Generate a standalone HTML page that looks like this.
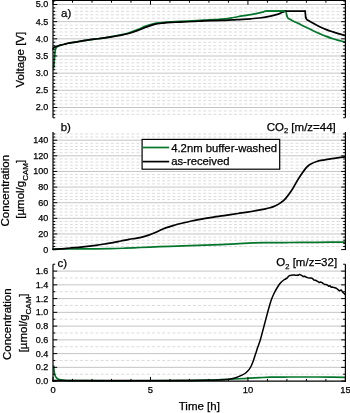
<!DOCTYPE html>
<html><head><meta charset="utf-8"><title>Figure</title>
<style>
html,body{margin:0;padding:0;background:#fff;width:350px;height:413px;overflow:hidden;}
svg{display:block;will-change:transform;font-family:"Liberation Sans", sans-serif;}
text{stroke:#000;stroke-width:0.25px;}
</style></head><body>
<svg width="350" height="413" viewBox="0 0 350 413" font-family='"Liberation Sans", sans-serif' fill="#000">
<rect width="350" height="413" fill="#fff"/>
<line x1="54.4" y1="114.36" x2="344.8" y2="114.36" stroke="#dcdcdc" stroke-width="1" stroke-dasharray="3 2.13"/>
<line x1="54.4" y1="110.92" x2="344.8" y2="110.92" stroke="#dcdcdc" stroke-width="1" stroke-dasharray="3 2.13"/>
<line x1="54.4" y1="104.06" x2="344.8" y2="104.06" stroke="#dcdcdc" stroke-width="1" stroke-dasharray="3 2.13"/>
<line x1="54.4" y1="100.62" x2="344.8" y2="100.62" stroke="#dcdcdc" stroke-width="1" stroke-dasharray="3 2.13"/>
<line x1="54.4" y1="97.19" x2="344.8" y2="97.19" stroke="#dcdcdc" stroke-width="1" stroke-dasharray="3 2.13"/>
<line x1="54.4" y1="93.76" x2="344.8" y2="93.76" stroke="#dcdcdc" stroke-width="1" stroke-dasharray="3 2.13"/>
<line x1="54.4" y1="86.89" x2="344.8" y2="86.89" stroke="#dcdcdc" stroke-width="1" stroke-dasharray="3 2.13"/>
<line x1="54.4" y1="83.46" x2="344.8" y2="83.46" stroke="#dcdcdc" stroke-width="1" stroke-dasharray="3 2.13"/>
<line x1="54.4" y1="80.03" x2="344.8" y2="80.03" stroke="#dcdcdc" stroke-width="1" stroke-dasharray="3 2.13"/>
<line x1="54.4" y1="76.59" x2="344.8" y2="76.59" stroke="#dcdcdc" stroke-width="1" stroke-dasharray="3 2.13"/>
<line x1="54.4" y1="69.73" x2="344.8" y2="69.73" stroke="#dcdcdc" stroke-width="1" stroke-dasharray="3 2.13"/>
<line x1="54.4" y1="66.29" x2="344.8" y2="66.29" stroke="#dcdcdc" stroke-width="1" stroke-dasharray="3 2.13"/>
<line x1="54.4" y1="62.86" x2="344.8" y2="62.86" stroke="#dcdcdc" stroke-width="1" stroke-dasharray="3 2.13"/>
<line x1="54.4" y1="59.43" x2="344.8" y2="59.43" stroke="#dcdcdc" stroke-width="1" stroke-dasharray="3 2.13"/>
<line x1="54.4" y1="52.56" x2="344.8" y2="52.56" stroke="#dcdcdc" stroke-width="1" stroke-dasharray="3 2.13"/>
<line x1="54.4" y1="49.13" x2="344.8" y2="49.13" stroke="#dcdcdc" stroke-width="1" stroke-dasharray="3 2.13"/>
<line x1="54.4" y1="45.7" x2="344.8" y2="45.7" stroke="#dcdcdc" stroke-width="1" stroke-dasharray="3 2.13"/>
<line x1="54.4" y1="42.26" x2="344.8" y2="42.26" stroke="#dcdcdc" stroke-width="1" stroke-dasharray="3 2.13"/>
<line x1="54.4" y1="35.4" x2="344.8" y2="35.4" stroke="#dcdcdc" stroke-width="1" stroke-dasharray="3 2.13"/>
<line x1="54.4" y1="31.96" x2="344.8" y2="31.96" stroke="#dcdcdc" stroke-width="1" stroke-dasharray="3 2.13"/>
<line x1="54.4" y1="28.53" x2="344.8" y2="28.53" stroke="#dcdcdc" stroke-width="1" stroke-dasharray="3 2.13"/>
<line x1="54.4" y1="25.1" x2="344.8" y2="25.1" stroke="#dcdcdc" stroke-width="1" stroke-dasharray="3 2.13"/>
<line x1="54.4" y1="18.23" x2="344.8" y2="18.23" stroke="#dcdcdc" stroke-width="1" stroke-dasharray="3 2.13"/>
<line x1="54.4" y1="14.8" x2="344.8" y2="14.8" stroke="#dcdcdc" stroke-width="1" stroke-dasharray="3 2.13"/>
<line x1="54.4" y1="11.37" x2="344.8" y2="11.37" stroke="#dcdcdc" stroke-width="1" stroke-dasharray="3 2.13"/>
<line x1="54.4" y1="7.93" x2="344.8" y2="7.93" stroke="#dcdcdc" stroke-width="1" stroke-dasharray="3 2.13"/>
<line x1="53.6" y1="107.49" x2="344.8" y2="107.49" stroke="#c4c4c4" stroke-width="1"/>
<line x1="53.6" y1="90.32" x2="344.8" y2="90.32" stroke="#c4c4c4" stroke-width="1"/>
<line x1="53.6" y1="73.16" x2="344.8" y2="73.16" stroke="#c4c4c4" stroke-width="1"/>
<line x1="53.6" y1="55.99" x2="344.8" y2="55.99" stroke="#c4c4c4" stroke-width="1"/>
<line x1="53.6" y1="38.83" x2="344.8" y2="38.83" stroke="#c4c4c4" stroke-width="1"/>
<line x1="53.6" y1="21.66" x2="344.8" y2="21.66" stroke="#c4c4c4" stroke-width="1"/>
<line x1="53.6" y1="4.5" x2="344.8" y2="4.5" stroke="#c4c4c4" stroke-width="1"/>
<rect x="59.3" y="6" width="14.3" height="14" fill="#fff"/>
<text x="61.0" y="16.8" font-size="11.5">a)</text>
<path d="M53.7,68 C53.8,66.83 54.13,63.08 54.3,61 C54.47,58.92 54.53,57.33 54.7,55.5 C54.87,53.67 55.03,51.35 55.3,50 C55.57,48.65 55.77,48.07 56.3,47.4 C56.83,46.73 57.65,46.4 58.5,46 C59.35,45.6 59.97,45.42 61.4,45 C62.83,44.58 65.18,43.92 67.1,43.5 C69.02,43.08 70.98,42.83 72.9,42.5 C74.82,42.17 76.47,41.85 78.6,41.5 C80.73,41.15 83.08,40.78 85.7,40.4 C88.32,40.02 91.43,39.58 94.3,39.2 C97.17,38.82 100.05,38.52 102.9,38.1 C105.75,37.68 108.55,37.22 111.4,36.7 C114.25,36.18 117.13,35.62 120,35 C122.87,34.38 125.75,33.85 128.6,33 C131.45,32.15 134.25,31.05 137.1,29.9 C139.95,28.75 142.83,27.15 145.7,26.1 C148.57,25.05 151.92,24.15 154.3,23.6 C156.68,23.05 157.15,23.08 160,22.8 C162.85,22.52 168.07,22.13 171.4,21.9 C174.73,21.67 176.42,21.58 180,21.4 C183.58,21.22 188.85,21.02 192.9,20.8 C196.95,20.58 200.62,20.3 204.3,20.1 C207.98,19.9 211.55,19.8 215,19.6 C218.45,19.4 221.9,19.25 225,18.9 C228.1,18.55 230.73,18 233.6,17.5 C236.47,17 239.35,16.38 242.2,15.9 C245.05,15.42 247.85,15.1 250.7,14.6 C253.55,14.1 257.17,13.37 259.3,12.9 C261.43,12.43 262.32,12.08 263.5,11.8 C264.68,11.52 262.68,11.3 266.4,11.2 C270.12,11.1 282.57,11.2 285.8,11.2" fill="none" stroke="#04762c" stroke-width="1.7" stroke-linejoin="round" stroke-linecap="round"/>
<polyline points="285.8,11.2 286.3,12.8 286.7,15.5" fill="none" stroke="#04762c" stroke-width="1.7" stroke-linejoin="round" stroke-linecap="round"/>
<path d="M286.7,15.5 C286.83,15.8 287.12,16.75 287.5,17.3 C287.88,17.85 288.07,18.18 289,18.8 C289.93,19.42 291.7,20.3 293.1,21 C294.5,21.7 296.25,22.47 297.4,23 C298.55,23.53 298.47,23.43 300,24.2 C301.53,24.97 304.4,26.52 306.6,27.6 C308.8,28.68 311.02,29.7 313.2,30.7 C315.38,31.7 317.52,32.65 319.7,33.6 C321.88,34.55 324.1,35.53 326.3,36.4 C328.5,37.27 330.7,38.1 332.9,38.8 C335.1,39.5 337.47,40.05 339.5,40.6 C341.53,41.15 344.17,41.85 345.1,42.1" fill="none" stroke="#04762c" stroke-width="1.7" stroke-linejoin="round" stroke-linecap="round"/>
<path d="M53,49 C53.12,48.8 53.43,48.12 53.7,47.8 C53.97,47.48 54.27,47.3 54.6,47.1 C54.93,46.9 55.03,46.83 55.7,46.6 C56.37,46.37 57.65,45.97 58.6,45.7 C59.55,45.43 60.45,45.23 61.4,45 C62.35,44.77 63.35,44.55 64.3,44.3 C65.25,44.05 66.15,43.75 67.1,43.5 C68.05,43.25 68.33,43.08 70,42.8 C71.67,42.52 74.48,42.2 77.1,41.8 C79.72,41.4 82.83,40.83 85.7,40.4 C88.57,39.97 91.43,39.57 94.3,39.2 C97.17,38.83 100.05,38.58 102.9,38.2 C105.75,37.82 108.55,37.37 111.4,36.9 C114.25,36.43 117.13,35.97 120,35.4 C122.87,34.83 125.75,34.27 128.6,33.5 C131.45,32.73 134.25,31.83 137.1,30.8 C139.95,29.77 142.83,28.37 145.7,27.3 C148.57,26.23 151.43,25.1 154.3,24.4 C157.17,23.7 160.05,23.43 162.9,23.1 C165.75,22.77 168.55,22.57 171.4,22.4 C174.25,22.23 176.42,22.25 180,22.1 C183.58,21.95 188.85,21.7 192.9,21.5 C196.95,21.3 200.62,21.05 204.3,20.9 C207.98,20.75 211.55,20.7 215,20.6 C218.45,20.5 221.67,20.43 225,20.3 C228.33,20.17 232.13,19.95 235,19.8 C237.87,19.65 239.58,19.57 242.2,19.4 C244.82,19.23 247.85,19.03 250.7,18.8 C253.55,18.57 256.43,18.35 259.3,18 C262.17,17.65 265.05,17.27 267.9,16.7 C270.75,16.13 274.33,15.17 276.4,14.6 C278.47,14.03 279.15,13.75 280.3,13.3 C281.45,12.85 282.52,12.25 283.3,11.9 C284.08,11.55 284.72,11.32 285,11.2" fill="none" stroke="#000" stroke-width="1.7" stroke-linejoin="round" stroke-linecap="round"/>
<polyline points="285,11.2 305.1,11.2" fill="none" stroke="#000" stroke-width="1.7" stroke-linejoin="round" stroke-linecap="round"/>
<polyline points="305.1,11.2 305.3,13 305.7,17.5" fill="none" stroke="#000" stroke-width="1.7" stroke-linejoin="round" stroke-linecap="round"/>
<path d="M305.7,17.5 C305.85,17.8 306.22,18.83 306.6,19.3 C306.98,19.77 306.9,19.63 308,20.3 C309.1,20.97 311.25,22.23 313.2,23.3 C315.15,24.37 317.52,25.65 319.7,26.7 C321.88,27.75 324.1,28.73 326.3,29.6 C328.5,30.47 330.7,31.18 332.9,31.9 C335.1,32.62 337.47,33.3 339.5,33.9 C341.53,34.5 344.17,35.23 345.1,35.5" fill="none" stroke="#000" stroke-width="1.7" stroke-linejoin="round" stroke-linecap="round"/>
<polyline points="266.4,11.2 284.8,11.2" fill="none" stroke="#04762c" stroke-width="1.7" stroke-linejoin="round" stroke-linecap="round"/>
<line x1="53" y1="107.49" x2="57.2" y2="107.49" stroke="#000" stroke-width="1"/>
<line x1="341.2" y1="107.49" x2="345.4" y2="107.49" stroke="#000" stroke-width="1"/>
<line x1="53" y1="90.32" x2="57.2" y2="90.32" stroke="#000" stroke-width="1"/>
<line x1="341.2" y1="90.32" x2="345.4" y2="90.32" stroke="#000" stroke-width="1"/>
<line x1="53" y1="73.16" x2="57.2" y2="73.16" stroke="#000" stroke-width="1"/>
<line x1="341.2" y1="73.16" x2="345.4" y2="73.16" stroke="#000" stroke-width="1"/>
<line x1="53" y1="55.99" x2="57.2" y2="55.99" stroke="#000" stroke-width="1"/>
<line x1="341.2" y1="55.99" x2="345.4" y2="55.99" stroke="#000" stroke-width="1"/>
<line x1="53" y1="38.83" x2="57.2" y2="38.83" stroke="#000" stroke-width="1"/>
<line x1="341.2" y1="38.83" x2="345.4" y2="38.83" stroke="#000" stroke-width="1"/>
<line x1="53" y1="21.66" x2="57.2" y2="21.66" stroke="#000" stroke-width="1"/>
<line x1="341.2" y1="21.66" x2="345.4" y2="21.66" stroke="#000" stroke-width="1"/>
<line x1="53" y1="4.5" x2="57.2" y2="4.5" stroke="#000" stroke-width="1"/>
<line x1="341.2" y1="4.5" x2="345.4" y2="4.5" stroke="#000" stroke-width="1"/>
<line x1="53" y1="117.79" x2="55.2" y2="117.79" stroke="#000" stroke-width="1"/>
<line x1="343.2" y1="117.79" x2="345.4" y2="117.79" stroke="#000" stroke-width="1"/>
<line x1="53" y1="114.36" x2="55.2" y2="114.36" stroke="#000" stroke-width="1"/>
<line x1="343.2" y1="114.36" x2="345.4" y2="114.36" stroke="#000" stroke-width="1"/>
<line x1="53" y1="110.92" x2="55.2" y2="110.92" stroke="#000" stroke-width="1"/>
<line x1="343.2" y1="110.92" x2="345.4" y2="110.92" stroke="#000" stroke-width="1"/>
<line x1="53" y1="104.06" x2="55.2" y2="104.06" stroke="#000" stroke-width="1"/>
<line x1="343.2" y1="104.06" x2="345.4" y2="104.06" stroke="#000" stroke-width="1"/>
<line x1="53" y1="100.62" x2="55.2" y2="100.62" stroke="#000" stroke-width="1"/>
<line x1="343.2" y1="100.62" x2="345.4" y2="100.62" stroke="#000" stroke-width="1"/>
<line x1="53" y1="97.19" x2="55.2" y2="97.19" stroke="#000" stroke-width="1"/>
<line x1="343.2" y1="97.19" x2="345.4" y2="97.19" stroke="#000" stroke-width="1"/>
<line x1="53" y1="93.76" x2="55.2" y2="93.76" stroke="#000" stroke-width="1"/>
<line x1="343.2" y1="93.76" x2="345.4" y2="93.76" stroke="#000" stroke-width="1"/>
<line x1="53" y1="86.89" x2="55.2" y2="86.89" stroke="#000" stroke-width="1"/>
<line x1="343.2" y1="86.89" x2="345.4" y2="86.89" stroke="#000" stroke-width="1"/>
<line x1="53" y1="83.46" x2="55.2" y2="83.46" stroke="#000" stroke-width="1"/>
<line x1="343.2" y1="83.46" x2="345.4" y2="83.46" stroke="#000" stroke-width="1"/>
<line x1="53" y1="80.03" x2="55.2" y2="80.03" stroke="#000" stroke-width="1"/>
<line x1="343.2" y1="80.03" x2="345.4" y2="80.03" stroke="#000" stroke-width="1"/>
<line x1="53" y1="76.59" x2="55.2" y2="76.59" stroke="#000" stroke-width="1"/>
<line x1="343.2" y1="76.59" x2="345.4" y2="76.59" stroke="#000" stroke-width="1"/>
<line x1="53" y1="69.73" x2="55.2" y2="69.73" stroke="#000" stroke-width="1"/>
<line x1="343.2" y1="69.73" x2="345.4" y2="69.73" stroke="#000" stroke-width="1"/>
<line x1="53" y1="66.29" x2="55.2" y2="66.29" stroke="#000" stroke-width="1"/>
<line x1="343.2" y1="66.29" x2="345.4" y2="66.29" stroke="#000" stroke-width="1"/>
<line x1="53" y1="62.86" x2="55.2" y2="62.86" stroke="#000" stroke-width="1"/>
<line x1="343.2" y1="62.86" x2="345.4" y2="62.86" stroke="#000" stroke-width="1"/>
<line x1="53" y1="59.43" x2="55.2" y2="59.43" stroke="#000" stroke-width="1"/>
<line x1="343.2" y1="59.43" x2="345.4" y2="59.43" stroke="#000" stroke-width="1"/>
<line x1="53" y1="52.56" x2="55.2" y2="52.56" stroke="#000" stroke-width="1"/>
<line x1="343.2" y1="52.56" x2="345.4" y2="52.56" stroke="#000" stroke-width="1"/>
<line x1="53" y1="49.13" x2="55.2" y2="49.13" stroke="#000" stroke-width="1"/>
<line x1="343.2" y1="49.13" x2="345.4" y2="49.13" stroke="#000" stroke-width="1"/>
<line x1="53" y1="45.7" x2="55.2" y2="45.7" stroke="#000" stroke-width="1"/>
<line x1="343.2" y1="45.7" x2="345.4" y2="45.7" stroke="#000" stroke-width="1"/>
<line x1="53" y1="42.26" x2="55.2" y2="42.26" stroke="#000" stroke-width="1"/>
<line x1="343.2" y1="42.26" x2="345.4" y2="42.26" stroke="#000" stroke-width="1"/>
<line x1="53" y1="35.4" x2="55.2" y2="35.4" stroke="#000" stroke-width="1"/>
<line x1="343.2" y1="35.4" x2="345.4" y2="35.4" stroke="#000" stroke-width="1"/>
<line x1="53" y1="31.96" x2="55.2" y2="31.96" stroke="#000" stroke-width="1"/>
<line x1="343.2" y1="31.96" x2="345.4" y2="31.96" stroke="#000" stroke-width="1"/>
<line x1="53" y1="28.53" x2="55.2" y2="28.53" stroke="#000" stroke-width="1"/>
<line x1="343.2" y1="28.53" x2="345.4" y2="28.53" stroke="#000" stroke-width="1"/>
<line x1="53" y1="25.1" x2="55.2" y2="25.1" stroke="#000" stroke-width="1"/>
<line x1="343.2" y1="25.1" x2="345.4" y2="25.1" stroke="#000" stroke-width="1"/>
<line x1="53" y1="18.23" x2="55.2" y2="18.23" stroke="#000" stroke-width="1"/>
<line x1="343.2" y1="18.23" x2="345.4" y2="18.23" stroke="#000" stroke-width="1"/>
<line x1="53" y1="14.8" x2="55.2" y2="14.8" stroke="#000" stroke-width="1"/>
<line x1="343.2" y1="14.8" x2="345.4" y2="14.8" stroke="#000" stroke-width="1"/>
<line x1="53" y1="11.37" x2="55.2" y2="11.37" stroke="#000" stroke-width="1"/>
<line x1="343.2" y1="11.37" x2="345.4" y2="11.37" stroke="#000" stroke-width="1"/>
<line x1="53" y1="7.93" x2="55.2" y2="7.93" stroke="#000" stroke-width="1"/>
<line x1="343.2" y1="7.93" x2="345.4" y2="7.93" stroke="#000" stroke-width="1"/>
<line x1="53" y1="1.07" x2="55.2" y2="1.07" stroke="#000" stroke-width="1"/>
<line x1="343.2" y1="1.07" x2="345.4" y2="1.07" stroke="#000" stroke-width="1"/>
<line x1="53" y1="0" x2="53" y2="117.79" stroke="#000" stroke-width="1.2"/>
<line x1="345.4" y1="0" x2="345.4" y2="117.79" stroke="#000" stroke-width="1.2"/>
<line x1="52.4" y1="0.5" x2="346" y2="0.5" stroke="#000" stroke-width="1.2"/>
<line x1="53" y1="0.5" x2="53" y2="4.7" stroke="#000" stroke-width="1"/>
<line x1="72.49" y1="0.5" x2="72.49" y2="2.7" stroke="#000" stroke-width="1"/>
<line x1="91.99" y1="0.5" x2="91.99" y2="2.7" stroke="#000" stroke-width="1"/>
<line x1="111.48" y1="0.5" x2="111.48" y2="2.7" stroke="#000" stroke-width="1"/>
<line x1="130.97" y1="0.5" x2="130.97" y2="2.7" stroke="#000" stroke-width="1"/>
<line x1="150.47" y1="0.5" x2="150.47" y2="4.7" stroke="#000" stroke-width="1"/>
<line x1="169.96" y1="0.5" x2="169.96" y2="2.7" stroke="#000" stroke-width="1"/>
<line x1="189.45" y1="0.5" x2="189.45" y2="2.7" stroke="#000" stroke-width="1"/>
<line x1="208.95" y1="0.5" x2="208.95" y2="2.7" stroke="#000" stroke-width="1"/>
<line x1="228.44" y1="0.5" x2="228.44" y2="2.7" stroke="#000" stroke-width="1"/>
<line x1="247.93" y1="0.5" x2="247.93" y2="4.7" stroke="#000" stroke-width="1"/>
<line x1="267.43" y1="0.5" x2="267.43" y2="2.7" stroke="#000" stroke-width="1"/>
<line x1="286.92" y1="0.5" x2="286.92" y2="2.7" stroke="#000" stroke-width="1"/>
<line x1="306.41" y1="0.5" x2="306.41" y2="2.7" stroke="#000" stroke-width="1"/>
<line x1="325.91" y1="0.5" x2="325.91" y2="2.7" stroke="#000" stroke-width="1"/>
<line x1="345.4" y1="0.5" x2="345.4" y2="4.7" stroke="#000" stroke-width="1"/>
<text x="48.2" y="110.39" text-anchor="end" font-size="9">2.0</text>
<text x="48.2" y="93.22" text-anchor="end" font-size="9">2.5</text>
<text x="48.2" y="76.06" text-anchor="end" font-size="9">3.0</text>
<text x="48.2" y="58.89" text-anchor="end" font-size="9">3.5</text>
<text x="48.2" y="41.73" text-anchor="end" font-size="9">4.0</text>
<text x="48.2" y="24.56" text-anchor="end" font-size="9">4.5</text>
<text x="48.2" y="7.4" text-anchor="end" font-size="9">5.0</text>
<line x1="54.4" y1="246.47" x2="344.8" y2="246.47" stroke="#dcdcdc" stroke-width="1" stroke-dasharray="3 2.13"/>
<line x1="54.4" y1="243.35" x2="344.8" y2="243.35" stroke="#dcdcdc" stroke-width="1" stroke-dasharray="3 2.13"/>
<line x1="54.4" y1="240.22" x2="344.8" y2="240.22" stroke="#dcdcdc" stroke-width="1" stroke-dasharray="3 2.13"/>
<line x1="54.4" y1="237.1" x2="344.8" y2="237.1" stroke="#dcdcdc" stroke-width="1" stroke-dasharray="3 2.13"/>
<line x1="54.4" y1="230.84" x2="344.8" y2="230.84" stroke="#dcdcdc" stroke-width="1" stroke-dasharray="3 2.13"/>
<line x1="54.4" y1="227.72" x2="344.8" y2="227.72" stroke="#dcdcdc" stroke-width="1" stroke-dasharray="3 2.13"/>
<line x1="54.4" y1="224.59" x2="344.8" y2="224.59" stroke="#dcdcdc" stroke-width="1" stroke-dasharray="3 2.13"/>
<line x1="54.4" y1="221.47" x2="344.8" y2="221.47" stroke="#dcdcdc" stroke-width="1" stroke-dasharray="3 2.13"/>
<line x1="54.4" y1="215.21" x2="344.8" y2="215.21" stroke="#dcdcdc" stroke-width="1" stroke-dasharray="3 2.13"/>
<line x1="54.4" y1="212.09" x2="344.8" y2="212.09" stroke="#dcdcdc" stroke-width="1" stroke-dasharray="3 2.13"/>
<line x1="54.4" y1="208.96" x2="344.8" y2="208.96" stroke="#dcdcdc" stroke-width="1" stroke-dasharray="3 2.13"/>
<line x1="54.4" y1="205.84" x2="344.8" y2="205.84" stroke="#dcdcdc" stroke-width="1" stroke-dasharray="3 2.13"/>
<line x1="54.4" y1="199.58" x2="344.8" y2="199.58" stroke="#dcdcdc" stroke-width="1" stroke-dasharray="3 2.13"/>
<line x1="54.4" y1="196.46" x2="344.8" y2="196.46" stroke="#dcdcdc" stroke-width="1" stroke-dasharray="3 2.13"/>
<line x1="54.4" y1="193.33" x2="344.8" y2="193.33" stroke="#dcdcdc" stroke-width="1" stroke-dasharray="3 2.13"/>
<line x1="54.4" y1="190.21" x2="344.8" y2="190.21" stroke="#dcdcdc" stroke-width="1" stroke-dasharray="3 2.13"/>
<line x1="54.4" y1="183.95" x2="344.8" y2="183.95" stroke="#dcdcdc" stroke-width="1" stroke-dasharray="3 2.13"/>
<line x1="54.4" y1="180.83" x2="344.8" y2="180.83" stroke="#dcdcdc" stroke-width="1" stroke-dasharray="3 2.13"/>
<line x1="54.4" y1="177.7" x2="344.8" y2="177.7" stroke="#dcdcdc" stroke-width="1" stroke-dasharray="3 2.13"/>
<line x1="54.4" y1="174.58" x2="344.8" y2="174.58" stroke="#dcdcdc" stroke-width="1" stroke-dasharray="3 2.13"/>
<line x1="54.4" y1="168.32" x2="344.8" y2="168.32" stroke="#dcdcdc" stroke-width="1" stroke-dasharray="3 2.13"/>
<line x1="54.4" y1="165.2" x2="344.8" y2="165.2" stroke="#dcdcdc" stroke-width="1" stroke-dasharray="3 2.13"/>
<line x1="54.4" y1="162.07" x2="344.8" y2="162.07" stroke="#dcdcdc" stroke-width="1" stroke-dasharray="3 2.13"/>
<line x1="54.4" y1="158.95" x2="344.8" y2="158.95" stroke="#dcdcdc" stroke-width="1" stroke-dasharray="3 2.13"/>
<line x1="54.4" y1="152.69" x2="344.8" y2="152.69" stroke="#dcdcdc" stroke-width="1" stroke-dasharray="3 2.13"/>
<line x1="54.4" y1="149.57" x2="344.8" y2="149.57" stroke="#dcdcdc" stroke-width="1" stroke-dasharray="3 2.13"/>
<line x1="54.4" y1="146.44" x2="344.8" y2="146.44" stroke="#dcdcdc" stroke-width="1" stroke-dasharray="3 2.13"/>
<line x1="54.4" y1="143.32" x2="344.8" y2="143.32" stroke="#dcdcdc" stroke-width="1" stroke-dasharray="3 2.13"/>
<line x1="54.4" y1="137.06" x2="344.8" y2="137.06" stroke="#dcdcdc" stroke-width="1" stroke-dasharray="3 2.13"/>
<line x1="54.4" y1="133.94" x2="344.8" y2="133.94" stroke="#dcdcdc" stroke-width="1" stroke-dasharray="3 2.13"/>
<line x1="53.6" y1="233.97" x2="344.8" y2="233.97" stroke="#c4c4c4" stroke-width="1"/>
<line x1="53.6" y1="218.34" x2="344.8" y2="218.34" stroke="#c4c4c4" stroke-width="1"/>
<line x1="53.6" y1="202.71" x2="344.8" y2="202.71" stroke="#c4c4c4" stroke-width="1"/>
<line x1="53.6" y1="187.08" x2="344.8" y2="187.08" stroke="#c4c4c4" stroke-width="1"/>
<line x1="53.6" y1="171.45" x2="344.8" y2="171.45" stroke="#c4c4c4" stroke-width="1"/>
<line x1="53.6" y1="155.82" x2="344.8" y2="155.82" stroke="#c4c4c4" stroke-width="1"/>
<line x1="53.6" y1="140.19" x2="344.8" y2="140.19" stroke="#c4c4c4" stroke-width="1"/>
<path d="M53.6,249.1 C56.33,249.08 63.93,249.03 70,249 C76.07,248.97 83.33,248.95 90,248.9 C96.67,248.85 104.17,248.82 110,248.7 C115.83,248.58 120,248.4 125,248.2 C130,248 135,247.72 140,247.5 C145,247.28 150,247.1 155,246.9 C160,246.7 164.17,246.5 170,246.3 C175.83,246.1 182.85,245.93 190,245.7 C197.15,245.47 205.28,245.22 212.9,244.9 C220.52,244.58 229.03,244.15 235.7,243.8 C242.37,243.45 247.18,243 252.9,242.8 C258.62,242.6 263.82,242.65 270,242.6 C276.18,242.55 283.33,242.53 290,242.5 C296.67,242.47 303.33,242.45 310,242.4 C316.67,242.35 324.15,242.25 330,242.2 C335.85,242.15 342.58,242.12 345.1,242.1" fill="none" stroke="#04762c" stroke-width="1.7" stroke-linejoin="round" stroke-linecap="round"/>
<path d="M53,249.3 C53.67,249.28 55.57,249.28 57,249.2 C58.43,249.12 59.4,249 61.6,248.8 C63.8,248.6 67.35,248.25 70.2,248 C73.05,247.75 75.85,247.57 78.7,247.3 C81.55,247.03 84.43,246.73 87.3,246.4 C90.17,246.07 93.03,245.7 95.9,245.3 C98.77,244.9 101.65,244.45 104.5,244 C107.35,243.55 110.25,243.1 113,242.6 C115.75,242.1 118.33,241.53 121,241 C123.67,240.47 126.55,239.83 129,239.4 C131.45,238.97 133.87,238.7 135.7,238.4 C137.53,238.1 137.85,238.15 140,237.6 C142.15,237.05 145.75,236.08 148.6,235.1 C151.45,234.12 154.25,232.9 157.1,231.7 C159.95,230.5 162.83,228.98 165.7,227.9 C168.57,226.82 171.43,226.02 174.3,225.2 C177.17,224.38 180.03,223.7 182.9,223 C185.77,222.3 188.65,221.62 191.5,221 C194.35,220.38 196.58,219.92 200,219.3 C203.42,218.68 207.72,217.97 212,217.3 C216.28,216.63 221.37,215.93 225.7,215.3 C230.03,214.67 233.72,214.13 238,213.5 C242.28,212.87 247.02,212.23 251.4,211.5 C255.78,210.77 261.2,209.72 264.3,209.1 C267.4,208.48 268.22,208.32 270,207.8 C271.78,207.28 273.18,206.87 275,206 C276.82,205.13 279.15,203.83 280.9,202.6 C282.65,201.37 283.7,200.65 285.5,198.6 C287.3,196.55 289.73,193.3 291.7,190.3 C293.67,187.3 295.45,183.6 297.3,180.6 C299.15,177.6 301.23,174.53 302.8,172.3 C304.37,170.07 305.45,168.55 306.7,167.2 C307.95,165.85 308.52,165.2 310.3,164.2 C312.08,163.2 315.02,161.93 317.4,161.2 C319.78,160.47 322.22,160.22 324.6,159.8 C326.98,159.38 329.32,159.05 331.7,158.7 C334.08,158.35 336.67,158.02 338.9,157.7 C341.13,157.38 344.07,156.95 345.1,156.8" fill="none" stroke="#000" stroke-width="1.7" stroke-linejoin="round" stroke-linecap="round"/>
<line x1="53" y1="249.6" x2="57.2" y2="249.6" stroke="#000" stroke-width="1"/>
<line x1="341.2" y1="249.6" x2="345.4" y2="249.6" stroke="#000" stroke-width="1"/>
<line x1="53" y1="233.97" x2="57.2" y2="233.97" stroke="#000" stroke-width="1"/>
<line x1="341.2" y1="233.97" x2="345.4" y2="233.97" stroke="#000" stroke-width="1"/>
<line x1="53" y1="218.34" x2="57.2" y2="218.34" stroke="#000" stroke-width="1"/>
<line x1="341.2" y1="218.34" x2="345.4" y2="218.34" stroke="#000" stroke-width="1"/>
<line x1="53" y1="202.71" x2="57.2" y2="202.71" stroke="#000" stroke-width="1"/>
<line x1="341.2" y1="202.71" x2="345.4" y2="202.71" stroke="#000" stroke-width="1"/>
<line x1="53" y1="187.08" x2="57.2" y2="187.08" stroke="#000" stroke-width="1"/>
<line x1="341.2" y1="187.08" x2="345.4" y2="187.08" stroke="#000" stroke-width="1"/>
<line x1="53" y1="171.45" x2="57.2" y2="171.45" stroke="#000" stroke-width="1"/>
<line x1="341.2" y1="171.45" x2="345.4" y2="171.45" stroke="#000" stroke-width="1"/>
<line x1="53" y1="155.82" x2="57.2" y2="155.82" stroke="#000" stroke-width="1"/>
<line x1="341.2" y1="155.82" x2="345.4" y2="155.82" stroke="#000" stroke-width="1"/>
<line x1="53" y1="140.19" x2="57.2" y2="140.19" stroke="#000" stroke-width="1"/>
<line x1="341.2" y1="140.19" x2="345.4" y2="140.19" stroke="#000" stroke-width="1"/>
<line x1="53" y1="246.47" x2="55.2" y2="246.47" stroke="#000" stroke-width="1"/>
<line x1="343.2" y1="246.47" x2="345.4" y2="246.47" stroke="#000" stroke-width="1"/>
<line x1="53" y1="243.35" x2="55.2" y2="243.35" stroke="#000" stroke-width="1"/>
<line x1="343.2" y1="243.35" x2="345.4" y2="243.35" stroke="#000" stroke-width="1"/>
<line x1="53" y1="240.22" x2="55.2" y2="240.22" stroke="#000" stroke-width="1"/>
<line x1="343.2" y1="240.22" x2="345.4" y2="240.22" stroke="#000" stroke-width="1"/>
<line x1="53" y1="237.1" x2="55.2" y2="237.1" stroke="#000" stroke-width="1"/>
<line x1="343.2" y1="237.1" x2="345.4" y2="237.1" stroke="#000" stroke-width="1"/>
<line x1="53" y1="230.84" x2="55.2" y2="230.84" stroke="#000" stroke-width="1"/>
<line x1="343.2" y1="230.84" x2="345.4" y2="230.84" stroke="#000" stroke-width="1"/>
<line x1="53" y1="227.72" x2="55.2" y2="227.72" stroke="#000" stroke-width="1"/>
<line x1="343.2" y1="227.72" x2="345.4" y2="227.72" stroke="#000" stroke-width="1"/>
<line x1="53" y1="224.59" x2="55.2" y2="224.59" stroke="#000" stroke-width="1"/>
<line x1="343.2" y1="224.59" x2="345.4" y2="224.59" stroke="#000" stroke-width="1"/>
<line x1="53" y1="221.47" x2="55.2" y2="221.47" stroke="#000" stroke-width="1"/>
<line x1="343.2" y1="221.47" x2="345.4" y2="221.47" stroke="#000" stroke-width="1"/>
<line x1="53" y1="215.21" x2="55.2" y2="215.21" stroke="#000" stroke-width="1"/>
<line x1="343.2" y1="215.21" x2="345.4" y2="215.21" stroke="#000" stroke-width="1"/>
<line x1="53" y1="212.09" x2="55.2" y2="212.09" stroke="#000" stroke-width="1"/>
<line x1="343.2" y1="212.09" x2="345.4" y2="212.09" stroke="#000" stroke-width="1"/>
<line x1="53" y1="208.96" x2="55.2" y2="208.96" stroke="#000" stroke-width="1"/>
<line x1="343.2" y1="208.96" x2="345.4" y2="208.96" stroke="#000" stroke-width="1"/>
<line x1="53" y1="205.84" x2="55.2" y2="205.84" stroke="#000" stroke-width="1"/>
<line x1="343.2" y1="205.84" x2="345.4" y2="205.84" stroke="#000" stroke-width="1"/>
<line x1="53" y1="199.58" x2="55.2" y2="199.58" stroke="#000" stroke-width="1"/>
<line x1="343.2" y1="199.58" x2="345.4" y2="199.58" stroke="#000" stroke-width="1"/>
<line x1="53" y1="196.46" x2="55.2" y2="196.46" stroke="#000" stroke-width="1"/>
<line x1="343.2" y1="196.46" x2="345.4" y2="196.46" stroke="#000" stroke-width="1"/>
<line x1="53" y1="193.33" x2="55.2" y2="193.33" stroke="#000" stroke-width="1"/>
<line x1="343.2" y1="193.33" x2="345.4" y2="193.33" stroke="#000" stroke-width="1"/>
<line x1="53" y1="190.21" x2="55.2" y2="190.21" stroke="#000" stroke-width="1"/>
<line x1="343.2" y1="190.21" x2="345.4" y2="190.21" stroke="#000" stroke-width="1"/>
<line x1="53" y1="183.95" x2="55.2" y2="183.95" stroke="#000" stroke-width="1"/>
<line x1="343.2" y1="183.95" x2="345.4" y2="183.95" stroke="#000" stroke-width="1"/>
<line x1="53" y1="180.83" x2="55.2" y2="180.83" stroke="#000" stroke-width="1"/>
<line x1="343.2" y1="180.83" x2="345.4" y2="180.83" stroke="#000" stroke-width="1"/>
<line x1="53" y1="177.7" x2="55.2" y2="177.7" stroke="#000" stroke-width="1"/>
<line x1="343.2" y1="177.7" x2="345.4" y2="177.7" stroke="#000" stroke-width="1"/>
<line x1="53" y1="174.58" x2="55.2" y2="174.58" stroke="#000" stroke-width="1"/>
<line x1="343.2" y1="174.58" x2="345.4" y2="174.58" stroke="#000" stroke-width="1"/>
<line x1="53" y1="168.32" x2="55.2" y2="168.32" stroke="#000" stroke-width="1"/>
<line x1="343.2" y1="168.32" x2="345.4" y2="168.32" stroke="#000" stroke-width="1"/>
<line x1="53" y1="165.2" x2="55.2" y2="165.2" stroke="#000" stroke-width="1"/>
<line x1="343.2" y1="165.2" x2="345.4" y2="165.2" stroke="#000" stroke-width="1"/>
<line x1="53" y1="162.07" x2="55.2" y2="162.07" stroke="#000" stroke-width="1"/>
<line x1="343.2" y1="162.07" x2="345.4" y2="162.07" stroke="#000" stroke-width="1"/>
<line x1="53" y1="158.95" x2="55.2" y2="158.95" stroke="#000" stroke-width="1"/>
<line x1="343.2" y1="158.95" x2="345.4" y2="158.95" stroke="#000" stroke-width="1"/>
<line x1="53" y1="152.69" x2="55.2" y2="152.69" stroke="#000" stroke-width="1"/>
<line x1="343.2" y1="152.69" x2="345.4" y2="152.69" stroke="#000" stroke-width="1"/>
<line x1="53" y1="149.57" x2="55.2" y2="149.57" stroke="#000" stroke-width="1"/>
<line x1="343.2" y1="149.57" x2="345.4" y2="149.57" stroke="#000" stroke-width="1"/>
<line x1="53" y1="146.44" x2="55.2" y2="146.44" stroke="#000" stroke-width="1"/>
<line x1="343.2" y1="146.44" x2="345.4" y2="146.44" stroke="#000" stroke-width="1"/>
<line x1="53" y1="143.32" x2="55.2" y2="143.32" stroke="#000" stroke-width="1"/>
<line x1="343.2" y1="143.32" x2="345.4" y2="143.32" stroke="#000" stroke-width="1"/>
<line x1="53" y1="137.06" x2="55.2" y2="137.06" stroke="#000" stroke-width="1"/>
<line x1="343.2" y1="137.06" x2="345.4" y2="137.06" stroke="#000" stroke-width="1"/>
<line x1="53" y1="133.94" x2="55.2" y2="133.94" stroke="#000" stroke-width="1"/>
<line x1="343.2" y1="133.94" x2="345.4" y2="133.94" stroke="#000" stroke-width="1"/>
<line x1="53" y1="131.9" x2="53" y2="250.1" stroke="#000" stroke-width="1.2"/>
<line x1="345.4" y1="131.9" x2="345.4" y2="250.1" stroke="#000" stroke-width="1.2"/>
<text x="48.2" y="252.5" text-anchor="end" font-size="9">0</text>
<text x="48.2" y="236.87" text-anchor="end" font-size="9">20</text>
<text x="48.2" y="221.24" text-anchor="end" font-size="9">40</text>
<text x="48.2" y="205.61" text-anchor="end" font-size="9">60</text>
<text x="48.2" y="189.98" text-anchor="end" font-size="9">80</text>
<text x="48.2" y="174.35" text-anchor="end" font-size="9">100</text>
<text x="48.2" y="158.72" text-anchor="end" font-size="9">120</text>
<text x="48.2" y="143.09" text-anchor="end" font-size="9">140</text>
<text x="60.7" y="130.9" font-size="11.5">b)</text>
<text x="335.8" y="130.6" font-size="11.5" text-anchor="end">CO<tspan font-size="7.5" dy="2.6">2</tspan><tspan dy="-2.6"> [m/z=44]</tspan></text>
<rect x="142.1" y="139.4" width="137.6" height="29.8" fill="#fff" stroke="#000" stroke-width="1.2"/>
<line x1="142.6" y1="147.5" x2="169.2" y2="147.5" stroke="#04762c" stroke-width="1.7"/>
<line x1="142.6" y1="161.6" x2="169.2" y2="161.6" stroke="#000" stroke-width="1.7"/>
<text x="171.2" y="151.5" font-size="11.3">4.2nm buffer-washed</text>
<text x="171.2" y="165.2" font-size="11.3">as-received</text>
<line x1="54.4" y1="374.23" x2="344.8" y2="374.23" stroke="#dcdcdc" stroke-width="1" stroke-dasharray="3 2.13"/>
<line x1="54.4" y1="360.48" x2="344.8" y2="360.48" stroke="#dcdcdc" stroke-width="1" stroke-dasharray="3 2.13"/>
<line x1="54.4" y1="346.73" x2="344.8" y2="346.73" stroke="#dcdcdc" stroke-width="1" stroke-dasharray="3 2.13"/>
<line x1="54.4" y1="332.98" x2="344.8" y2="332.98" stroke="#dcdcdc" stroke-width="1" stroke-dasharray="3 2.13"/>
<line x1="54.4" y1="319.23" x2="344.8" y2="319.23" stroke="#dcdcdc" stroke-width="1" stroke-dasharray="3 2.13"/>
<line x1="54.4" y1="305.48" x2="344.8" y2="305.48" stroke="#dcdcdc" stroke-width="1" stroke-dasharray="3 2.13"/>
<line x1="54.4" y1="291.73" x2="344.8" y2="291.73" stroke="#dcdcdc" stroke-width="1" stroke-dasharray="3 2.13"/>
<line x1="54.4" y1="277.98" x2="344.8" y2="277.98" stroke="#dcdcdc" stroke-width="1" stroke-dasharray="3 2.13"/>
<line x1="53.6" y1="367.35" x2="344.8" y2="367.35" stroke="#c4c4c4" stroke-width="1"/>
<line x1="53.6" y1="353.6" x2="344.8" y2="353.6" stroke="#c4c4c4" stroke-width="1"/>
<line x1="53.6" y1="339.85" x2="344.8" y2="339.85" stroke="#c4c4c4" stroke-width="1"/>
<line x1="53.6" y1="326.1" x2="344.8" y2="326.1" stroke="#c4c4c4" stroke-width="1"/>
<line x1="53.6" y1="312.35" x2="344.8" y2="312.35" stroke="#c4c4c4" stroke-width="1"/>
<line x1="53.6" y1="298.6" x2="344.8" y2="298.6" stroke="#c4c4c4" stroke-width="1"/>
<line x1="53.6" y1="284.85" x2="344.8" y2="284.85" stroke="#c4c4c4" stroke-width="1"/>
<line x1="53.6" y1="271.1" x2="344.8" y2="271.1" stroke="#c4c4c4" stroke-width="1"/>
<rect x="56.5" y="257" width="11" height="13" fill="#fff"/>
<text x="57.6" y="266.6" font-size="11.5">c)</text>
<text x="337.1" y="266.2" font-size="11.5" text-anchor="end">O<tspan font-size="7.5" dy="2.6">2</tspan><tspan dy="-2.6"> [m/z=32]</tspan></text>
<path d="M53.8,366 C53.83,366.67 53.88,368.75 54,370 C54.12,371.25 54.28,372.5 54.5,373.5 C54.72,374.5 54.97,375.28 55.3,376 C55.63,376.72 56.05,377.32 56.5,377.8 C56.95,378.28 57.27,378.55 58,378.9 C58.73,379.25 59.73,379.65 60.9,379.9 C62.07,380.15 63.15,380.27 65,380.4 C66.85,380.53 62.83,380.63 72,380.7 C81.17,380.77 102,380.82 120,380.8 C138,380.78 165.83,380.7 180,380.6 C194.17,380.5 198.33,380.35 205,380.2 C211.67,380.05 215.12,379.9 220,379.7 C224.88,379.5 229.7,379.23 234.3,379 C238.9,378.77 243.32,378.53 247.6,378.3 C251.88,378.07 256.27,377.78 260,377.6 C263.73,377.42 265,377.3 270,377.2 C275,377.1 283.33,377.03 290,377 C296.67,376.97 303.33,376.98 310,377 C316.67,377.02 324.15,377.05 330,377.1 C335.85,377.15 342.58,377.27 345.1,377.3" fill="none" stroke="#04762c" stroke-width="1.7" stroke-linejoin="round" stroke-linecap="round"/>
<path d="M53,380.6 C60.83,380.6 83.83,380.62 100,380.6 C116.17,380.58 133.33,380.55 150,380.5 C166.67,380.45 188.33,380.38 200,380.3 C211.67,380.22 215.38,380.15 220,380 C224.62,379.85 225.22,379.73 227.7,379.4 C230.18,379.07 232.52,378.72 234.9,378 C237.28,377.28 240.22,375.93 242,375.1 C243.78,374.27 244.4,373.95 245.6,373 C246.8,372.05 248.25,370.6 249.2,369.4 C250.15,368.2 250.58,367.33 251.3,365.8 C252.02,364.27 252.78,362.2 253.5,360.2 C254.22,358.2 254.9,355.95 255.6,353.8 C256.3,351.65 256.98,349.38 257.7,347.3 C258.42,345.22 259.28,343.18 259.9,341.3 C260.52,339.42 260.67,338.72 261.4,336 C262.13,333.28 263.33,328.67 264.3,325 C265.27,321.33 266.25,317.5 267.2,314 C268.15,310.5 269.2,306.67 270,304 C270.8,301.33 271.25,299.92 272,298 C272.75,296.08 273.67,294.17 274.5,292.5 C275.33,290.83 276.08,289.5 277,288 C277.92,286.5 279.08,284.67 280,283.5 C280.92,282.33 281.58,281.75 282.5,281 C283.42,280.25 284.7,279.52 285.5,279 C286.3,278.48 286.8,278.35 287.3,277.9 C287.8,277.45 288.05,276.7 288.5,276.3 C288.95,275.9 289.25,275.72 290,275.5 C290.75,275.28 292.15,275.05 293,275 C293.85,274.95 294.28,275.15 295.1,275.2 C295.92,275.25 297.43,275.28 297.9,275.3" fill="none" stroke="#000" stroke-width="1.5" stroke-linejoin="round" stroke-linecap="round"/>
<polyline points="297.9,275.3 299.6,274.39 302,275.68 303.33,276.58 304.67,276.19 306,277.04 307.6,277.64 309.2,278.07 310.8,277.91 312.4,278.49 314,280.12 315.33,280.22 316.67,280.78 318,281.71 319.33,282.56 320.67,282.08 322,282.57 323.33,283.59 324.67,284.5 326,284.59 327.33,284.98 328.67,286.27 330,285.76 331.33,287.26 332.67,287.11 334,287.47 336.4,288.24 338,289.57 339.6,290.98 341.2,289.92 342.8,292.3 345.4,294.8" fill="none" stroke="#000" stroke-width="1.5" stroke-linejoin="round" stroke-linecap="round"/>
<line x1="53" y1="381.1" x2="57.2" y2="381.1" stroke="#000" stroke-width="1"/>
<line x1="341.2" y1="381.1" x2="345.4" y2="381.1" stroke="#000" stroke-width="1"/>
<line x1="53" y1="367.35" x2="57.2" y2="367.35" stroke="#000" stroke-width="1"/>
<line x1="341.2" y1="367.35" x2="345.4" y2="367.35" stroke="#000" stroke-width="1"/>
<line x1="53" y1="353.6" x2="57.2" y2="353.6" stroke="#000" stroke-width="1"/>
<line x1="341.2" y1="353.6" x2="345.4" y2="353.6" stroke="#000" stroke-width="1"/>
<line x1="53" y1="339.85" x2="57.2" y2="339.85" stroke="#000" stroke-width="1"/>
<line x1="341.2" y1="339.85" x2="345.4" y2="339.85" stroke="#000" stroke-width="1"/>
<line x1="53" y1="326.1" x2="57.2" y2="326.1" stroke="#000" stroke-width="1"/>
<line x1="341.2" y1="326.1" x2="345.4" y2="326.1" stroke="#000" stroke-width="1"/>
<line x1="53" y1="312.35" x2="57.2" y2="312.35" stroke="#000" stroke-width="1"/>
<line x1="341.2" y1="312.35" x2="345.4" y2="312.35" stroke="#000" stroke-width="1"/>
<line x1="53" y1="298.6" x2="57.2" y2="298.6" stroke="#000" stroke-width="1"/>
<line x1="341.2" y1="298.6" x2="345.4" y2="298.6" stroke="#000" stroke-width="1"/>
<line x1="53" y1="284.85" x2="57.2" y2="284.85" stroke="#000" stroke-width="1"/>
<line x1="341.2" y1="284.85" x2="345.4" y2="284.85" stroke="#000" stroke-width="1"/>
<line x1="53" y1="271.1" x2="57.2" y2="271.1" stroke="#000" stroke-width="1"/>
<line x1="341.2" y1="271.1" x2="345.4" y2="271.1" stroke="#000" stroke-width="1"/>
<line x1="53" y1="374.23" x2="55.2" y2="374.23" stroke="#000" stroke-width="1"/>
<line x1="343.2" y1="374.23" x2="345.4" y2="374.23" stroke="#000" stroke-width="1"/>
<line x1="53" y1="360.48" x2="55.2" y2="360.48" stroke="#000" stroke-width="1"/>
<line x1="343.2" y1="360.48" x2="345.4" y2="360.48" stroke="#000" stroke-width="1"/>
<line x1="53" y1="346.73" x2="55.2" y2="346.73" stroke="#000" stroke-width="1"/>
<line x1="343.2" y1="346.73" x2="345.4" y2="346.73" stroke="#000" stroke-width="1"/>
<line x1="53" y1="332.98" x2="55.2" y2="332.98" stroke="#000" stroke-width="1"/>
<line x1="343.2" y1="332.98" x2="345.4" y2="332.98" stroke="#000" stroke-width="1"/>
<line x1="53" y1="319.23" x2="55.2" y2="319.23" stroke="#000" stroke-width="1"/>
<line x1="343.2" y1="319.23" x2="345.4" y2="319.23" stroke="#000" stroke-width="1"/>
<line x1="53" y1="305.48" x2="55.2" y2="305.48" stroke="#000" stroke-width="1"/>
<line x1="343.2" y1="305.48" x2="345.4" y2="305.48" stroke="#000" stroke-width="1"/>
<line x1="53" y1="291.73" x2="55.2" y2="291.73" stroke="#000" stroke-width="1"/>
<line x1="343.2" y1="291.73" x2="345.4" y2="291.73" stroke="#000" stroke-width="1"/>
<line x1="53" y1="277.98" x2="55.2" y2="277.98" stroke="#000" stroke-width="1"/>
<line x1="343.2" y1="277.98" x2="345.4" y2="277.98" stroke="#000" stroke-width="1"/>
<line x1="53" y1="264.23" x2="55.2" y2="264.23" stroke="#000" stroke-width="1"/>
<line x1="343.2" y1="264.23" x2="345.4" y2="264.23" stroke="#000" stroke-width="1"/>
<line x1="53" y1="264.23" x2="53" y2="381.7" stroke="#000" stroke-width="1.2"/>
<line x1="345.4" y1="264.23" x2="345.4" y2="381.7" stroke="#000" stroke-width="1.2"/>
<line x1="52.4" y1="381.1" x2="346" y2="381.1" stroke="#000" stroke-width="1.2"/>
<line x1="53" y1="376.9" x2="53" y2="381.1" stroke="#000" stroke-width="1"/>
<line x1="72.49" y1="378.9" x2="72.49" y2="381.1" stroke="#000" stroke-width="1"/>
<line x1="91.99" y1="378.9" x2="91.99" y2="381.1" stroke="#000" stroke-width="1"/>
<line x1="111.48" y1="378.9" x2="111.48" y2="381.1" stroke="#000" stroke-width="1"/>
<line x1="130.97" y1="378.9" x2="130.97" y2="381.1" stroke="#000" stroke-width="1"/>
<line x1="150.47" y1="376.9" x2="150.47" y2="381.1" stroke="#000" stroke-width="1"/>
<line x1="169.96" y1="378.9" x2="169.96" y2="381.1" stroke="#000" stroke-width="1"/>
<line x1="189.45" y1="378.9" x2="189.45" y2="381.1" stroke="#000" stroke-width="1"/>
<line x1="208.95" y1="378.9" x2="208.95" y2="381.1" stroke="#000" stroke-width="1"/>
<line x1="228.44" y1="378.9" x2="228.44" y2="381.1" stroke="#000" stroke-width="1"/>
<line x1="247.93" y1="376.9" x2="247.93" y2="381.1" stroke="#000" stroke-width="1"/>
<line x1="267.43" y1="378.9" x2="267.43" y2="381.1" stroke="#000" stroke-width="1"/>
<line x1="286.92" y1="378.9" x2="286.92" y2="381.1" stroke="#000" stroke-width="1"/>
<line x1="306.41" y1="378.9" x2="306.41" y2="381.1" stroke="#000" stroke-width="1"/>
<line x1="325.91" y1="378.9" x2="325.91" y2="381.1" stroke="#000" stroke-width="1"/>
<line x1="345.4" y1="376.9" x2="345.4" y2="381.1" stroke="#000" stroke-width="1"/>
<text x="48.2" y="384" text-anchor="end" font-size="9">0.0</text>
<text x="48.2" y="370.25" text-anchor="end" font-size="9">0.2</text>
<text x="48.2" y="356.5" text-anchor="end" font-size="9">0.4</text>
<text x="48.2" y="342.75" text-anchor="end" font-size="9">0.6</text>
<text x="48.2" y="329" text-anchor="end" font-size="9">0.8</text>
<text x="48.2" y="315.25" text-anchor="end" font-size="9">1.0</text>
<text x="48.2" y="301.5" text-anchor="end" font-size="9">1.2</text>
<text x="48.2" y="287.75" text-anchor="end" font-size="9">1.4</text>
<text x="48.2" y="274" text-anchor="end" font-size="9">1.6</text>
<text x="53" y="393.4" font-size="9.4" text-anchor="middle">0</text>
<text x="150.47" y="393.4" font-size="9.4" text-anchor="middle">5</text>
<text x="247.93" y="393.4" font-size="9.4" text-anchor="middle">10</text>
<text x="345.4" y="393.4" font-size="9.4" text-anchor="middle">15</text>
<text x="199.3" y="410.1" font-size="11.5" text-anchor="middle">Time [h]</text>
<text transform="translate(23.9,59.6) rotate(-90)" text-anchor="middle" font-size="11.5">Voltage [V]</text>
<text transform="translate(8.9,190.7) rotate(-90)" text-anchor="middle" font-size="11.5">Concentration</text>
<text transform="translate(24.4,189.3) rotate(-90)" text-anchor="middle" font-size="11.5">[µmol/g<tspan font-size="8" dy="3.2">CAM</tspan><tspan dy="-3.2">]</tspan></text>
<text transform="translate(11.2,324.2) rotate(-90)" text-anchor="middle" font-size="11.5">Concentration</text>
<text transform="translate(27.3,322.9) rotate(-90)" text-anchor="middle" font-size="11.5">[µmol/g<tspan font-size="8" dy="3.2">CAM</tspan><tspan dy="-3.2">]</tspan></text>
</svg>
</body></html>
